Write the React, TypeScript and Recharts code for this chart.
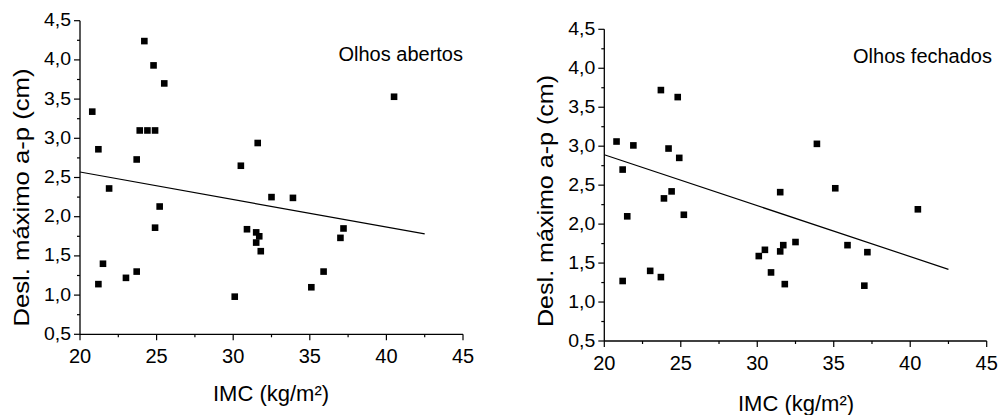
import React from 'react';
import { ScatterChart, Scatter, XAxis, YAxis, ReferenceLine } from 'recharts';

// Olhos abertos
const openImc = [20.8, 24.2, 24.8, 25.5, 21.2, 23.9, 24.4, 24.9, 23.7, 21.9, 30.5, 31.6, 40.5, 32.5, 33.9, 25.2, 24.9, 21.5, 21.2, 23.0, 23.7, 30.1, 30.9, 31.5, 31.7, 31.5, 31.8, 37.2, 37.0, 35.9, 35.1];
const openDesl = [3.34, 4.24, 3.93, 3.70, 2.86, 3.10, 3.10, 3.10, 2.73, 2.36, 2.65, 2.94, 3.53, 2.25, 2.24, 2.13, 1.86, 1.40, 1.14, 1.22, 1.30, 0.98, 1.84, 1.80, 1.75, 1.67, 1.56, 1.85, 1.73, 1.30, 1.10];
const openFitX = [20, 42.5];
const openFitY = [2.57, 1.78];

// Olhos fechados
const closedImc = [20.8, 21.2, 21.9, 23.7, 24.8, 24.2, 24.9, 23.9, 24.4, 21.5, 25.2, 21.2, 23.0, 23.7, 30.1, 30.5, 33.9, 31.5, 35.1, 40.5, 30.9, 31.5, 31.7, 31.8, 32.5, 35.9, 37.2, 37.0];
const closedDesl = [3.06, 2.70, 3.01, 3.72, 3.63, 2.97, 2.85, 2.33, 2.42, 2.10, 2.12, 1.27, 1.40, 1.32, 1.59, 1.67, 3.03, 2.41, 2.46, 2.19, 1.38, 1.65, 1.73, 1.23, 1.77, 1.73, 1.64, 1.21];
const closedFitX = [20, 42.5];
const closedFitY = [2.89, 1.42];

const xTicks = [20, 22.5, 25, 27.5, 30, 32.5, 35, 37.5, 40, 42.5, 45];
const yTicks = [0.5, 0.75, 1, 1.25, 1.5, 1.75, 2, 2.25, 2.5, 2.75, 3, 3.25, 3.5, 3.75, 4, 4.25, 4.5];

const FONT = 'Liberation Sans, Arial, sans-serif';

const fmt = (v: number) => v.toFixed(1).replace('.', ',');

const XTick = (p: any) => {
  const v = p.payload.value;
  const major = v % 5 === 0;
  return (
    <g>
      <line x1={p.x} x2={p.x} y1={p.y} y2={p.y + (major ? 6 : 3)} stroke="#000" strokeWidth={1.2} />
      {major && (
        <text x={p.x} y={p.y + 28.5} textAnchor="middle" fontSize={20} fontFamily={FONT} fill="#000">
          {v}
        </text>
      )}
    </g>
  );
};

const YTick = (p: any) => {
  const v = p.payload.value;
  const major = Math.abs(v * 2 - Math.round(v * 2)) < 1e-6;
  return (
    <g>
      <line x1={p.x} x2={p.x - (major ? 6 : 3)} y1={p.y} y2={p.y} stroke="#000" strokeWidth={1.2} />
      {major && (
        <text
          x={p.x - 9}
          y={p.y + 5.5}
          textAnchor="end"
          fontSize={18}
          textLength={27}
          lengthAdjust="spacingAndGlyphs"
          fontFamily={FONT}
          fill="#000"
        >
          {fmt(v)}
        </text>
      )}
    </g>
  );
};

const Square = (p: any) => <rect x={p.cx - 3.3} y={p.cy - 3.3} width={6.6} height={6.6} fill="#000" />;

interface PanelProps {
  xs: number[];
  ys: number[];
  fitX: number[];
  fitY: number[];
  left: number;
  margin: { top: number; right: number; bottom: number; left: number };
}

const Panel: React.FC<PanelProps> = ({ xs, ys, fitX, fitY, left, margin }) => {
  const data = xs.map((x, i) => ({ x, y: ys[i] }));
  return (
    <div style={{ position: 'absolute', left, top: 0 }}>
      <ScatterChart width={480} height={415} margin={margin}>
        <XAxis
          type="number"
          dataKey="x"
          domain={[20, 45]}
          ticks={xTicks}
          interval={0}
          height={30}
          tickSize={0}
          tickMargin={0}
          tickLine={false}
          axisLine={{ stroke: '#000', strokeWidth: 1.3 }}
          tick={(p: any) => <XTick {...p} />}
        />
        <YAxis
          type="number"
          dataKey="y"
          domain={[0.5, 4.5]}
          ticks={yTicks}
          interval={0}
          width={60}
          tickSize={0}
          tickMargin={0}
          tickLine={false}
          axisLine={{ stroke: '#000', strokeWidth: 1.3 }}
          tick={(p: any) => <YTick {...p} />}
        />
        <ReferenceLine
          segment={[
            { x: fitX[0], y: fitY[0] },
            { x: fitX[1], y: fitY[1] },
          ]}
          stroke="#000"
          strokeWidth={1.2}
        />
        <Scatter data={data} shape={Square} isAnimationActive={false} />
      </ScatterChart>
    </div>
  );
};

export default function App() {
  const txt = { fontFamily: FONT, fill: '#000' };
  return (
    <div style={{ position: 'fixed', left: 0, top: 0, width: 1000, height: 415, background: '#fff' }}>
      <Panel
        xs={openImc}
        ys={openDesl}
        fitX={openFitX}
        fitY={openFitY}
        left={0}
        margin={{ top: 20.7, right: 17, bottom: 50.7, left: 20 }}
      />
      <Panel
        xs={closedImc}
        ys={closedDesl}
        fitX={closedFitX}
        fitY={closedFitY}
        left={520}
        margin={{ top: 29.3, right: 13.3, bottom: 44, left: 24.3 }}
      />
      <svg width={1000} height={415} style={{ position: 'absolute', left: 0, top: 0, pointerEvents: 'none' }}>
        <text
          transform="translate(29,197.5) rotate(-90)"
          textAnchor="middle"
          fontSize={22}
          textLength={258}
          lengthAdjust="spacingAndGlyphs"
          {...txt}
        >
          Desl. máximo a-p (cm)
        </text>
        <text
          transform="translate(553,201) rotate(-90)"
          textAnchor="middle"
          fontSize={22}
          textLength={252}
          lengthAdjust="spacingAndGlyphs"
          {...txt}
        >
          Desl. máximo a-p (cm)
        </text>
        <text x={271} y={401} textAnchor="middle" fontSize={22} {...txt}>
          IMC (kg/m²)
        </text>
        <text x={796} y={411} textAnchor="middle" fontSize={22} {...txt}>
          IMC (kg/m²)
        </text>
        <text x={463} y={61} textAnchor="end" fontSize={20} {...txt}>
          Olhos abertos
        </text>
        <text x={992} y={63} textAnchor="end" fontSize={20} {...txt}>
          Olhos fechados
        </text>
      </svg>
    </div>
  );
}
